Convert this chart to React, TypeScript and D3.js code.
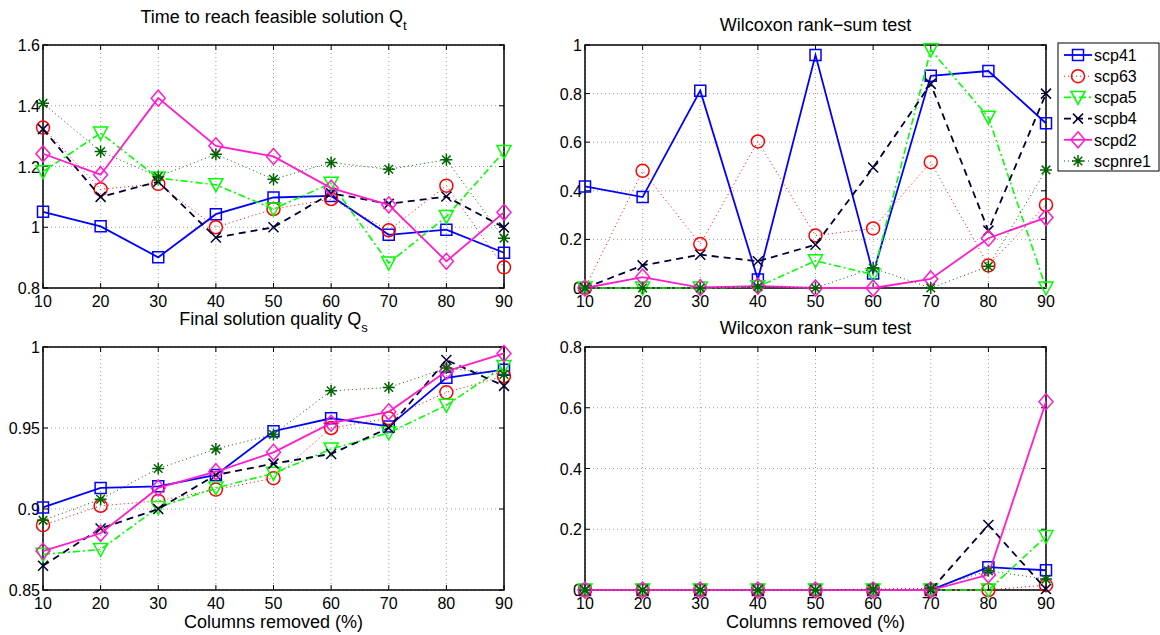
import React from 'react'
import * as d3 from 'd3'

const percents = [10, 20, 30, 40, 50, 60, 70, 80, 90]
const seriesNames = ['scp41', 'scp63', 'scpa5', 'scpb4', 'scpd2', 'scpnre1']

// rows follow seriesNames
const timeToFeasible = [
  [1.051, 1.003, 0.901, 1.043, 1.098, 1.103, 0.975, 0.992, 0.916],
  [1.328, 1.125, 1.143, 1.0, 1.06, 1.093, 0.99, 1.137, 0.868],
  [1.183, 1.31, 1.162, 1.14, 1.06, 1.145, 0.882, 1.035, 1.249],
  [1.323, 1.1, 1.15, 0.966, 1.0, 1.112, 1.077, 1.101, 0.999],
  [1.242, 1.173, 1.425, 1.268, 1.233, 1.129, 1.074, 0.888, 1.049],
  [1.408, 1.249, 1.167, 1.24, 1.158, 1.213, 1.191, 1.222, 0.964],
]
const wilcoxonTime = [
  [0.418, 0.374, 0.812, 0.035, 0.959, 0.06, 0.873, 0.893, 0.678],
  [0, 0.482, 0.181, 0.603, 0.216, 0.245, 0.518, 0.093, 0.342],
  [0, 0, 0, 0.005, 0.112, 0.055, 0.98, 0.703, 0],
  [0, 0.093, 0.137, 0.11, 0.178, 0.496, 0.84, 0.236, 0.8],
  [0, 0.045, 0.002, 0.008, 0, 0, 0.037, 0.205, 0.29],
  [0, 0, 0, 0.005, 0, 0.082, 0, 0.089, 0.486],
]
const finalQuality = [
  [0.901, 0.913, 0.914, 0.921, 0.948, 0.956, 0.951, 0.981, 0.986],
  [0.89, 0.902, 0.905, 0.912, 0.919, 0.95, 0.956, 0.972, 0.982],
  [0.872, 0.875, 0.901, 0.913, 0.922, 0.937, 0.947, 0.964, 0.988],
  [0.865, 0.888, 0.9, 0.921, 0.928, 0.934, 0.95, 0.992, 0.976],
  [0.874, 0.885, 0.913, 0.923, 0.935, 0.953, 0.96, 0.985, 0.996],
  [0.893, 0.906, 0.925, 0.937, 0.946, 0.973, 0.975, 0.987, 0.983],
]
const wilcoxonQuality = [
  [0, 0, 0, 0, 0, 0, 0, 0.075, 0.065],
  [0, 0, 0, 0, 0, 0, 0, 0, 0.016],
  [0, 0, 0, 0, 0, 0, 0, 0, 0.176],
  [0, 0, 0, 0, 0, 0, 0, 0.214, 0.003],
  [0, 0, 0, 0, 0, 0, 0, 0.05, 0.62],
  [0, 0, 0, 0, 0, 0.003, 0.005, 0.063, 0.036],
]

const qtTicks = [0.8, 1, 1.2, 1.4, 1.6]
const pTicks = [0, 0.2, 0.4, 0.6, 0.8, 1]
const qsTicks = [0.85, 0.9, 0.95, 1]
const pTicks2 = [0, 0.2, 0.4, 0.6, 0.8]

const styles = {
  scp41: { color: '#0000ff', dash: null, width: 1.8, marker: 'square' },
  scp63: { color: '#ff0000', dash: '1,3', width: 1, marker: 'circle' },
  scpa5: { color: '#00ff00', dash: '7,3,2,3', width: 1.6, marker: 'tri' },
  scpb4: { color: '#000033', dash: '7,5', width: 1.8, marker: 'x' },
  scpd2: { color: '#ff1ccc', dash: null, width: 1.8, marker: 'diamond' },
  scpnre1: { color: '#006400', dash: '1,3', width: 1, marker: 'star' },
}

const FONT = 'Liberation Sans, Arial, Helvetica, sans-serif'

function markerPath(kind) {
  switch (kind) {
    case 'square': return 'M-5.5,-5.5H5.5V5.5H-5.5Z'
    case 'circle': return 'M6.5,0A6.5,6.5 0 1,1 -6.5,0A6.5,6.5 0 1,1 6.5,0Z'
    case 'tri': return 'M-7,-6H7L0,7Z'
    case 'x': return 'M-5,-5L5,5M-5,5L5,-5'
    case 'diamond': return 'M0,-8L7,0L0,8L-7,0Z'
    default: return 'M-6,0H6M0,-6V6M-4.3,-4.3L4.3,4.3M-4.3,4.3L4.3,-4.3'
  }
}

function Panel({ x0, y0, w, h, data, domain, ticks, title, sub, titleY, xlabel }) {
  const x = d3.scaleLinear().domain([10, 90]).range([x0, x0 + w])
  const y = d3.scaleLinear().domain(domain).range([y0 + h, y0])
  const line = d3.line().x((d, i) => x(percents[i])).y(d => y(d))
  const fmt = v => String(+v.toFixed(2))
  return (
    <g fontFamily={FONT}>
      {percents.map(p => (
        <line key={'gx' + p} x1={x(p)} x2={x(p)} y1={y0} y2={y0 + h} stroke="#a0a0a0" strokeDasharray="1,3" />
      ))}
      {ticks.map(t => (
        <line key={'gy' + t} x1={x0} x2={x0 + w} y1={y(t)} y2={y(t)} stroke="#a0a0a0" strokeDasharray="1,3" />
      ))}
      <rect x={x0} y={y0} width={w} height={h} fill="none" stroke="#000" strokeWidth={1.5} />
      {percents.map(p => (
        <g key={'tx' + p}>
          <line x1={x(p)} x2={x(p)} y1={y0 + h} y2={y0 + h - 5} stroke="#000" />
          <line x1={x(p)} x2={x(p)} y1={y0} y2={y0 + 5} stroke="#000" />
          <text x={x(p)} y={y0 + h + 19} fontSize={16} textAnchor="middle">{p}</text>
        </g>
      ))}
      {ticks.map(t => (
        <g key={'ty' + t}>
          <line x1={x0} x2={x0 + 5} y1={y(t)} y2={y(t)} stroke="#000" />
          <line x1={x0 + w} x2={x0 + w - 5} y1={y(t)} y2={y(t)} stroke="#000" />
          <text x={x0 - 3} y={y(t)} dy="0.38em" fontSize={16} textAnchor="end">{fmt(t)}</text>
        </g>
      ))}
      {data.map((vals, si) => {
        const st = styles[seriesNames[si]]
        return (
          <g key={seriesNames[si]}>
            <path d={line(vals)} fill="none" stroke={st.color} strokeWidth={st.width}
              strokeDasharray={st.dash || undefined} />
            {vals.map((v, i) => (
              <path key={i} d={markerPath(st.marker)} transform={`translate(${x(percents[i])},${y(v)})`}
                fill="none" stroke={st.color} strokeWidth={1.5} />
            ))}
          </g>
        )
      })}
      <text x={x0 + w / 2} y={titleY} fontSize={18} textAnchor="middle">
        {title}
        {sub && <tspan fontSize={13} dy={7}>{sub}</tspan>}
      </text>
      {xlabel && (
        <text x={x0 + w / 2} y={y0 + h + 38} fontSize={18} textAnchor="middle">{xlabel}</text>
      )}
    </g>
  )
}

function Legend({ x0, y0 }) {
  const rowH = 21.2
  return (
    <g fontFamily={FONT}>
      <rect x={x0} y={y0} width={101} height={128} fill="#fff" stroke="#000" strokeWidth={1} />
      {seriesNames.map((name, i) => {
        const st = styles[name]
        const cy = y0 + 12 + i * rowH
        return (
          <g key={name}>
            <line x1={x0 + 6} x2={x0 + 34} y1={cy} y2={cy} stroke={st.color} strokeWidth={st.width}
              strokeDasharray={st.dash || undefined} />
            <path d={markerPath(st.marker)} transform={`translate(${x0 + 20},${cy})`} fill="none"
              stroke={st.color} strokeWidth={1.5} />
            <text x={x0 + 36} y={cy} dy="0.36em" fontSize={16}>{name}</text>
          </g>
        )
      })}
    </g>
  )
}

export default function App() {
  const w = 461
  const h = 243
  return (
    <svg width={1160} height={635} style={{ position: 'absolute', left: 0, top: 0, background: '#fff' }}>
      <Panel x0={43} y0={45} w={w} h={h} data={timeToFeasible} domain={[0.8, 1.6]} ticks={qtTicks}
        title="Time to reach feasible solution Q" sub="t" titleY={23} />
      <Panel x0={585} y0={45} w={w} h={h} data={wilcoxonTime} domain={[0, 1]} ticks={pTicks}
        title="Wilcoxon rank−sum test" titleY={31} />
      <Panel x0={43} y0={347} w={w} h={h} data={finalQuality} domain={[0.85, 1]} ticks={qsTicks}
        title="Final solution quality Q" sub="s" titleY={325} xlabel="Columns removed (%)" />
      <Panel x0={585} y0={347} w={w} h={h} data={wilcoxonQuality} domain={[0, 0.8]} ticks={pTicks2}
        title="Wilcoxon rank−sum test" titleY={334} xlabel="Columns removed (%)" />
      <Legend x0={1058} y0={43} />
    </svg>
  )
}
